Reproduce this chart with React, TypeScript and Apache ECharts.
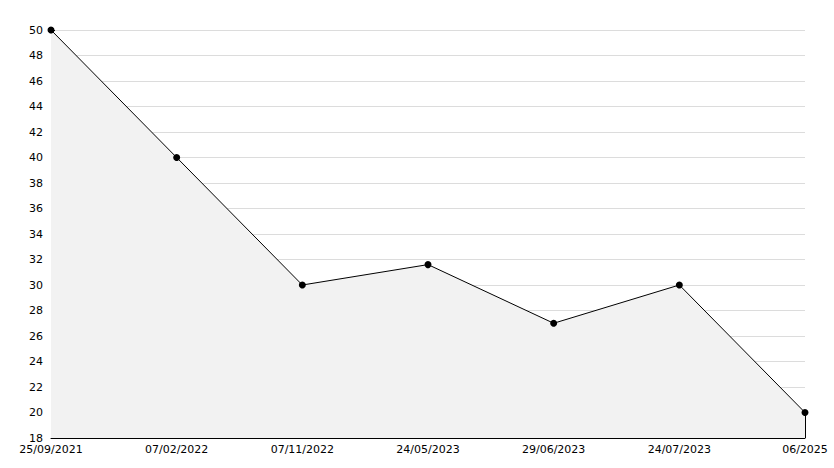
import React, { useEffect, useRef } from "react";
import * as echarts from "echarts";

const categories = ["25/09/2021", "07/02/2022", "07/11/2022", "24/05/2023", "29/06/2023", "24/07/2023", "06/2025"];
const values = [50, 40, 30, 31.6, 27, 30, 20];
const yMin = 18;
const yMax = 50;
const yStep = 2;

export default function App() {
  const ref = useRef<HTMLDivElement>(null);
  useEffect(() => {
    if (!ref.current) return;
    const chart = echarts.init(ref.current, null, { renderer: "svg" });
    const lastIdx = categories.length - 1;
    chart.setOption({
      animation: false,
      backgroundColor: "#ffffff",
      grid: { left: 51, right: 29, top: 30, bottom: 30, containLabel: false },
      xAxis: {
        type: "category",
        data: categories,
        boundaryGap: false,
        axisLine: { show: true, lineStyle: { color: "#000", width: 1 } },
        axisTick: { show: true, inside: true, length: 5, lineStyle: { color: "#000" }, alignWithLabel: true },
        axisLabel: { color: "#000", fontFamily: "DejaVu Sans", fontSize: 11, margin: 6, interval: 0 },
        splitLine: { show: false },
      },
      yAxis: {
        type: "value",
        min: yMin,
        max: yMax,
        interval: yStep,
        axisLine: { show: true, lineStyle: { color: "#000", width: 1 } },
        axisTick: { show: true, inside: true, length: 4, lineStyle: { color: "#000" } },
        minorTick: { show: true, splitNumber: 2, length: 3, lineStyle: { color: "#000" } },
        axisLabel: { color: "#000", fontFamily: "DejaVu Sans", fontSize: 11, margin: 8 },
        splitLine: { show: true, lineStyle: { color: "#dcdcdc", width: 1 } },
      },
      series: [
        {
          type: "line",
          data: values,
          symbol: "circle",
          symbolSize: 7,
          itemStyle: { color: "#000" },
          lineStyle: { color: "#000", width: 1 },
          areaStyle: { color: "#f2f2f2", opacity: 1, origin: "start" },
          markLine: {
            silent: true,
            symbol: "none",
            label: { show: false },
            lineStyle: { color: "#000", width: 1, type: "solid" },
            data: [
              [
                { coord: [lastIdx, yMin] },
                { coord: [lastIdx, values[lastIdx]] },
              ],
            ],
          },
        },
      ],
    });
    return () => chart.dispose();
  }, []);
  return <div ref={ref} style={{ position: "absolute", left: 0, top: 0, width: 834, height: 468 }} />;
}
